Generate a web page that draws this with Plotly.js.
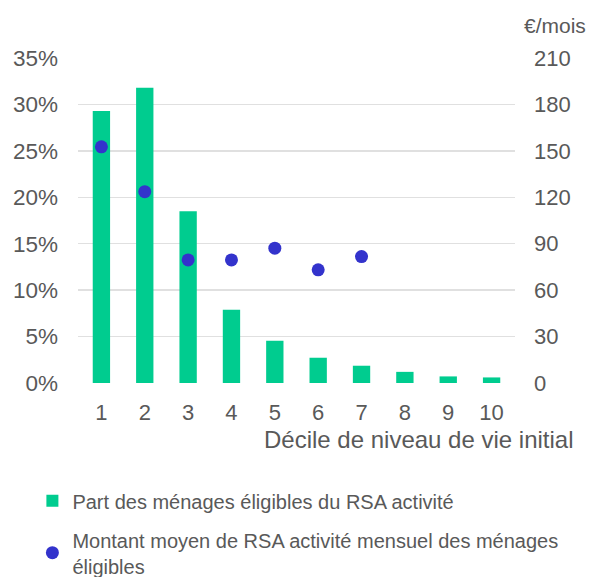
<!DOCTYPE html>
<html>
<head>
<meta charset="utf-8">
<script src="https://cdn.plot.ly/plotly-3.0.1.min.js"></script>
<style>html,body{margin:0;padding:0;background:#fff;}#chart{width:589px;height:577px;}</style>
</head>
<body>
<div id="chart"></div>
<script>
const deciles = [1, 2, 3, 4, 5, 6, 7, 8, 9, 10];
const partEligibles = [0.293, 0.318, 0.185, 0.079, 0.0455, 0.0272, 0.0186, 0.012, 0.0071, 0.006];
const decilesMontant = [1, 2, 3, 4, 5, 6, 7];
const montantMoyen = [152.6, 123.6, 79.5, 79.5, 87.1, 73.1, 81.7];
const leftTicks = [0, 0.05, 0.10, 0.15, 0.20, 0.25, 0.30, 0.35];
const rightTicks = [0, 30, 60, 90, 120, 150, 180, 210];
const nameBars = 'Part des ménages éligibles du RSA activité';
const nameDots = 'Montant moyen de RSA activité mensuel des ménages<br>éligibles';
const xTitle = 'Décile de niveau de vie initial';
const rightUnit = '€/mois';

const font = 'Arial, "Liberation Sans", sans-serif';
const grey = '#595959';

const traces = [
  {
    type: 'bar', x: deciles, y: partEligibles, name: nameBars,
    marker: {color: '#00cc8f'}, width: 0.4, yaxis: 'y', legendgroup: 'a'
  },
  {
    type: 'scatter', mode: 'markers', x: decilesMontant, y: montantMoyen, name: nameDots,
    marker: {color: '#3333cc', size: 13}, yaxis: 'y2', legendgroup: 'b'
  }
];

const layout = {
  width: 589, height: 577,
  margin: {l: 78, r: 74, t: 58, b: 194, autoexpand: false},
  paper_bgcolor: '#fff', plot_bgcolor: '#fff',
  font: {family: font, color: grey, size: 22},
  showlegend: true,
  xaxis: {
    range: [0.46, 10.54], tickvals: deciles, ticktext: deciles.map(String),
    showgrid: false, zeroline: false, showline: false, ticks: '',
    ticklabelstandoff: 14, tickfont: {size: 22, color: grey}, fixedrange: true
  },
  yaxis: {
    range: [0, 0.35], tickvals: leftTicks, tickformat: '.0%',
    showgrid: true, gridcolor: '#e0e0e0', gridwidth: 1.5, zeroline: false, showline: false,
    ticks: '', ticklabelstandoff: 19, tickfont: {size: 22.5, color: grey}
  },
  yaxis2: {
    range: [0, 210], tickvals: rightTicks, overlaying: 'y', side: 'right',
    showgrid: false, zeroline: false, showline: false, ticks: '',
    ticklabelstandoff: 18, tickfont: {size: 22, color: grey}
  },
  legend: {
    xref: 'container', yref: 'container',
    x: 0.055, xanchor: 'left', y: 0.166, yanchor: 'top',
    font: {size: 20, color: grey}, traceorder: 'grouped', tracegroupgap: 10,
    bgcolor: 'rgba(0,0,0,0)'
  },
  annotations: [
    {text: xTitle, xref: 'paper', yref: 'paper', x: 1.14, y: -0.174, xanchor: 'right', yanchor: 'middle',
     showarrow: false, font: {size: 24, color: grey}},
    {text: rightUnit, xref: 'paper', yref: 'paper', x: 1.0915, y: 1.101, xanchor: 'center', yanchor: 'middle',
     showarrow: false, font: {size: 21, color: grey}}
  ]
};

Plotly.newPlot('chart', traces, layout, {displayModeBar: false, staticPlot: true});
</script>
</body>
</html>
